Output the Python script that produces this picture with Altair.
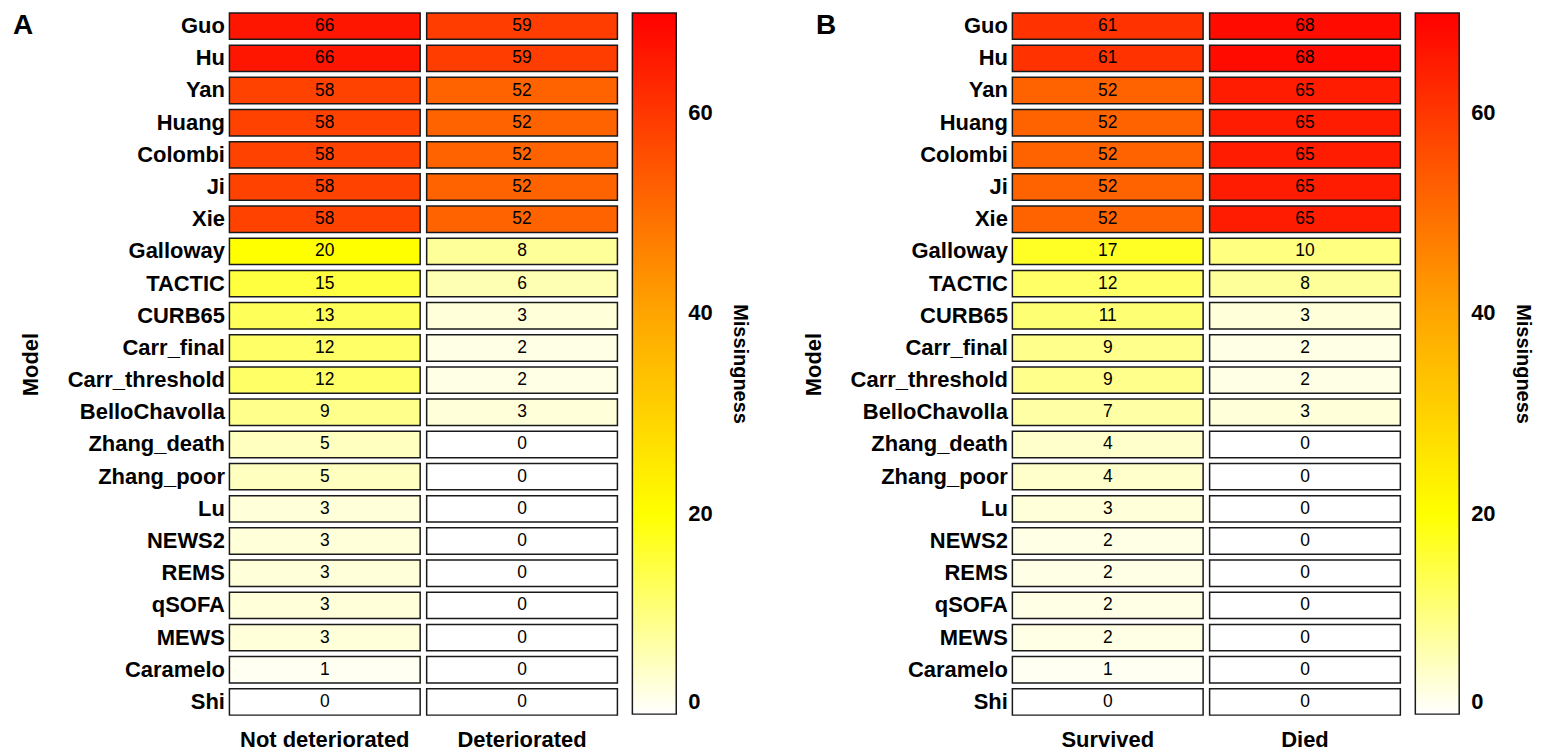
import altair as alt
import pandas as pd

models = ["Guo", "Hu", "Yan", "Huang", "Colombi", "Ji", "Xie", "Galloway", "TACTIC",
          "CURB65", "Carr_final", "Carr_threshold", "BelloChavolla", "Zhang_death",
          "Zhang_poor", "Lu", "NEWS2", "REMS", "qSOFA", "MEWS", "Caramelo", "Shi"]

groups_a = ["Not deteriorated", "Deteriorated"]
not_deteriorated = [66, 66, 58, 58, 58, 58, 58, 20, 15, 13, 12, 12, 9, 5, 5, 3, 3, 3, 3, 3, 1, 0]
deteriorated = [59, 59, 52, 52, 52, 52, 52, 8, 6, 3, 2, 2, 3, 0, 0, 0, 0, 0, 0, 0, 0, 0]

groups_b = ["Survived", "Died"]
survived = [61, 61, 52, 52, 52, 52, 52, 17, 12, 11, 9, 9, 7, 4, 4, 3, 2, 2, 2, 2, 1, 0]
died = [68, 68, 65, 65, 65, 65, 65, 10, 8, 3, 2, 2, 3, 0, 0, 0, 0, 0, 0, 0, 0, 0]

color_domain = [0, 20, 40, 70]
color_range = ["#FFFFFF", "#FFFF00", "#FFA500", "#FF0000"]
legend_values = [0, 20, 40, 60]

FONT = "Liberation Sans"


def panel(groups, col1, col2, letter, letter_x):
    rows = []
    for m, v in zip(models, col1):
        rows.append({"Model": m, "Group": groups[0], "Missingness": v})
    for m, v in zip(models, col2):
        rows.append({"Model": m, "Group": groups[1], "Missingness": v})
    df = pd.DataFrame(rows)
    base = alt.Chart(df)
    x = alt.X("Group:N", sort=groups, title=None,
              scale=alt.Scale(paddingInner=0.033, paddingOuter=0),
              axis=alt.Axis(orient="bottom", labelAngle=0, labelFontSize=22,
                            labelFontWeight="bold", labelFont=FONT, labelColor="black",
                            ticks=False, tickSize=0, domain=False, labelPadding=14))
    y = alt.Y("Model:N", sort=models, title="Model",
              scale=alt.Scale(paddingInner=0.18, paddingOuter=0),
              axis=alt.Axis(labelFontSize=22, labelFontWeight="bold", labelFont=FONT,
                            labelColor="black", ticks=False, tickSize=0, domain=False,
                            labelPadding=5, titleFontSize=22, titleFont=FONT,
                            titleFontWeight="bold", titleColor="black", titlePadding=25))
    rect = base.mark_rect(stroke="#1a1a1a", strokeWidth=1.5).encode(
        x=x, y=y,
        color=alt.Color("Missingness:Q",
                        scale=alt.Scale(domain=color_domain, range=color_range,
                                        interpolate="rgb"),
                        legend=alt.Legend(title="Missingness", values=legend_values,
                                          gradientLength=703, gradientThickness=44,
                                          offset=15, labelFontSize=22, labelFont=FONT,
                                          labelFontWeight="bold", labelColor="black",
                                          labelOffset=12, labelBaseline="middle",
                                          titleOrient="right", titleFontSize=20,
                                          titleFont=FONT, titleFontWeight="bold",
                                          titleColor="black", titlePadding=18,
                                          gradientStrokeColor="#1a1a1a",
                                          gradientStrokeWidth=1.5)))
    text = base.mark_text(fontSize=17.5, font=FONT, color="black").encode(
        x=x, y=y, text="Missingness:Q")
    lab = alt.Chart(pd.DataFrame({"lab": [letter]})).mark_text(
        align="left", baseline="middle", fontSize=28, fontWeight="bold", font=FONT,
        color="black").encode(x=alt.value(letter_x), y=alt.value(13), text="lab:N")
    return alt.layer(rect, text, lab).properties(width=389, height=704)


pa = panel(groups_a, not_deteriorated, deteriorated, "A", -217)
pb = panel(groups_b, survived, died, "B", -197)

chart = alt.hconcat(pa, pb, spacing=52).resolve_scale(color="independent").properties(
    padding={"left": 5, "top": 3, "right": 3, "bottom": 2}
).configure_view(stroke=None)

chart.save("out.html", embed_options={"renderer": "svg", "actions": False})
